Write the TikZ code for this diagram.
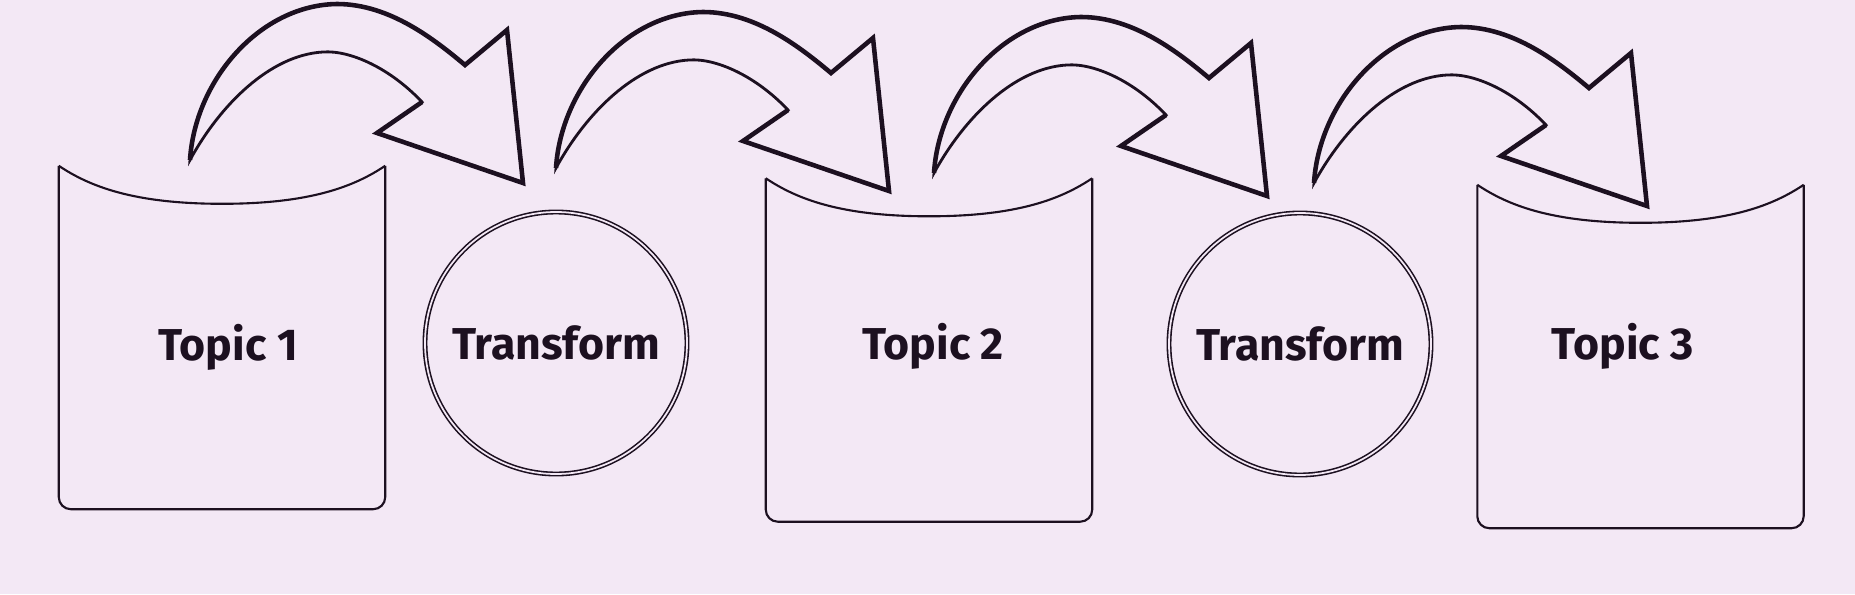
\documentclass[tikz,border=0pt]{standalone}
\usepackage{fontspec}
\setmainfont{Fira Sans}
\usepackage{tikz}
\usetikzlibrary{shapes, positioning}
\definecolor{paper}{RGB}{243,232,245}
\definecolor{ink}{RGB}{28,16,32}
\tikzset{
    normal/.style={draw=ink, line width=0.6pt},
    topic/.style={minimum width=3.25cm, minimum height=3.42cm, inner sep=0}, % frame of a topic, drawn by hand
    lab/.style={text=ink, font=\bfseries\fontsize{12.7}{15}\selectfont, inner sep=0},
    tf/.style={style=lab, circle, draw=ink, double=paper, double distance=0.5pt, line width=0.45pt, minimum size=2.62cm},
    flow/.pic={ % bent block arrow, origin at its tail
        \draw[draw=ink, line width=0.8pt, line join=miter]
            (0,0) .. controls (0.05,0.8) and (0.7,1.55) .. (1.47,1.56)
            .. controls (2.0,1.56) and (2.45,1.2) .. (2.75,0.95)
            -- (3.17,1.30) -- (3.33,-0.23) -- (1.87,0.27) -- (2.32,0.58)
            .. controls (2.0,0.92) and (1.6,1.1) .. (1.33,1.08)
            .. controls (0.8,1.05) and (0.3,0.55) .. (0,0) -- cycle;
        % heavier outer edge
        \draw[draw=ink, line width=1.3pt, line join=miter]
            (0,0) .. controls (0.05,0.8) and (0.7,1.55) .. (1.47,1.56)
            .. controls (2.0,1.56) and (2.45,1.2) .. (2.75,0.95)
            -- (3.17,1.30) -- (3.33,-0.23) -- (1.87,0.27) -- (2.32,0.58);
    }
}
\tikzstyle{rim}=[style=normal, rounded corners=1.2mm]

\begin{document}
\begin{tikzpicture}
    \fill[paper] (0,0) rectangle (18.55,5.94);

    \node[topic] (box1) at (2.22,2.565) {};
    \node[topic] (box2) at (9.29,2.44) {};
    \node[topic] (box3) at (16.405,2.375) {};
    \node[lab] (topic1) at (2.28,2.47) {Topic 1};
    \node[lab] (topic2) at (9.33,2.48) {Topic 2};
    \node[lab] (topic3) at (16.23,2.48) {Topic 3};
    \node[tf] (tf1) at (5.56,2.51) {Transform};
    \node[tf] (tf2) at (13.00,2.50) {Transform};

    \draw[rim] (box1.north west) -- (box1.south west) -- (box1.south east) -- (box1.north east);
    \draw[normal] (box1.north west) .. controls +(0.3,-0.2) and +(-0.9,0) .. ([yshift=-3.8mm]box1.north)
        .. controls +(0.9,0) and +(-0.3,-0.2) .. (box1.north east);
    \draw[rim] (box2.north west) -- (box2.south west) -- (box2.south east) -- (box2.north east);
    \draw[normal] (box2.north west) .. controls +(0.3,-0.2) and +(-0.9,0) .. ([yshift=-3.8mm]box2.north)
        .. controls +(0.9,0) and +(-0.3,-0.2) .. (box2.north east);
    \draw[rim] (box3.north west) -- (box3.south west) -- (box3.south east) -- (box3.north east);
    \draw[normal] (box3.north west) .. controls +(0.3,-0.2) and +(-0.9,0) .. ([yshift=-3.8mm]box3.north)
        .. controls +(0.9,0) and +(-0.3,-0.2) .. (box3.north east);

    \pic at (1.90,4.34) {flow};
    \pic at (5.56,4.26) {flow};
    \pic at (9.34,4.21) {flow};
    \pic at (13.14,4.11) {flow};
\end{tikzpicture}
\end{document}
